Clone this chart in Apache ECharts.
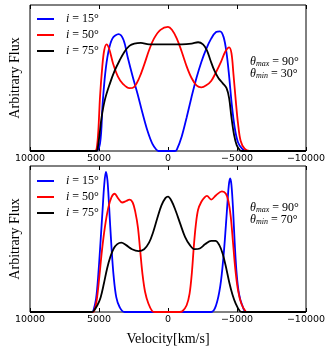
<!DOCTYPE html>
<html>
<head>
<meta charset="utf-8">
<script src="https://cdn.jsdelivr.net/npm/echarts@6/dist/echarts.min.js"></script>
<style>
  html, body { margin: 0; padding: 0; background: #fff; }
  #chart { width: 330px; height: 347px; }
</style>
</head>
<body>
<div id="chart"></div>
<script>
// velocity [km/s], flux pairs
// top panel: theta_min = 30
const top15 = [[10000,0],[5250,0],[4927,0.05],[4740,0.32],[4550,0.53],[4337,0.67],[4030,0.77],[3577,0.80],[3221,0.76],[2915,0.64],[2560,0.51],[2204,0.39],[1849,0.26],[1493,0.14],[1138,0.05],[853,0.01],[700,0],[-500,0],[-640,0.01],[-995,0.10],[-1351,0.23],[-1706,0.37],[-2062,0.50],[-2417,0.61],[-2773,0.70],[-3128,0.77],[-3484,0.815],[-3768,0.82],[-4030,0.78],[-4243,0.67],[-4432,0.51],[-4620,0.32],[-4835,0.16],[-5070,0.06],[-5380,0.015],[-5700,0],[-10000,0]];
const top50 = [[10000,0],[5300,0],[5170,0.016],[5048,0.14],[4927,0.37],[4764,0.575],[4622,0.69],[4455,0.73],[4266,0.70],[3982,0.60],[3626,0.51],[3271,0.46],[2797,0.43],[2441,0.44],[2086,0.50],[1730,0.59],[1374,0.69],[1019,0.77],[545,0.83],[0,0.85],[-284,0.83],[-640,0.77],[-995,0.68],[-1351,0.58],[-1706,0.50],[-2062,0.45],[-2417,0.436],[-2773,0.45],[-3128,0.48],[-3484,0.54],[-3839,0.61],[-4147,0.68],[-4432,0.71],[-4598,0.67],[-4740,0.53],[-4906,0.35],[-5072,0.19],[-5261,0.07],[-5546,0.016],[-5900,0],[-10000,0]];
const top75 = [[10000,0],[5200,0],[5120,0.005],[4977,0.10],[4813,0.23],[4575,0.35],[4219,0.46],[3863,0.55],[3508,0.62],[3152,0.68],[2797,0.72],[2441,0.735],[1967,0.74],[1374,0.73],[663,0.73],[0,0.73],[-995,0.73],[-1706,0.735],[-2180,0.745],[-2536,0.73],[-2820,0.69],[-3080,0.62],[-3365,0.55],[-3650,0.50],[-3958,0.465],[-4243,0.43],[-4432,0.36],[-4598,0.23],[-4787,0.11],[-4977,0.04],[-5214,0.005],[-5400,0],[-10000,0]];
// bottom panel: theta_min = 70
const bot15 = [[10000,0],[5500,0],[5404,0.01],[5214,0.09],[5048,0.26],[4883,0.49],[4740,0.70],[4622,0.87],[4500,0.96],[4385,0.90],[4266,0.72],[4100,0.45],[3934,0.24],[3745,0.10],[3508,0.034],[3152,0],[-3128,0],[-3484,0.046],[-3792,0.18],[-4030,0.39],[-4196,0.595],[-4314,0.755],[-4408,0.87],[-4503,0.915],[-4598,0.87],[-4716,0.70],[-4835,0.47],[-4977,0.26],[-5143,0.126],[-5380,0.046],[-5688,0],[-10000,0]];
const bot50 = [[10000,0],[5450,0],[5356,0.005],[5167,0.08],[4977,0.24],[4787,0.42],[4575,0.58],[4337,0.71],[4100,0.785],[3863,0.81],[3626,0.78],[3318,0.75],[3034,0.76],[2797,0.77],[2560,0.75],[2370,0.686],[2180,0.58],[2015,0.42],[1849,0.26],[1659,0.137],[1422,0.058],[1138,0.005],[950,0],[-850,0],[-1043,0.005],[-1351,0.046],[-1564,0.126],[-1730,0.27],[-1872,0.45],[-2014,0.595],[-2180,0.70],[-2417,0.755],[-2654,0.785],[-2820,0.795],[-3128,0.77],[-3484,0.80],[-3910,0.826],[-4196,0.81],[-4385,0.755],[-4550,0.65],[-4716,0.47],[-4882,0.29],[-5072,0.15],[-5310,0.058],[-5617,0.005],[-5800,0],[-10000,0]];
const bot75 = [[10000,0],[5500,0],[5404,0.005],[5120,0.046],[4883,0.10],[4645,0.195],[4408,0.30],[4171,0.38],[3934,0.435],[3674,0.465],[3389,0.475],[3034,0.458],[2607,0.43],[2133,0.417],[1730,0.43],[1374,0.475],[1067,0.55],[782,0.64],[474,0.73],[190,0.78],[0,0.79],[-284,0.755],[-569,0.69],[-877,0.607],[-1233,0.515],[-1588,0.458],[-1944,0.43],[-2300,0.435],[-2702,0.465],[-3128,0.487],[-3436,0.487],[-3720,0.458],[-3958,0.40],[-4196,0.31],[-4432,0.206],[-4669,0.12],[-4906,0.058],[-5214,0.005],[-5400,0],[-10000,0]];

const names = ['i = 15°', 'i = 50°', 'i = 75°'];
const colors = ['#0000ff', '#ff0000', '#000000'];
const thetaMax = ['90', '90'];
const thetaMin = ['30', '70'];

const serif = 'Liberation Serif';
const chart = echarts.init(document.getElementById('chart'));

function tickLabel(v){
    return v < 0 ? '\u2212' + (-v) : String(v);
}

function xAxes(idx){
    return [{
        gridIndex: idx, type: 'value', min: -10000, max: 10000, interval: 5000, inverse: true,
        axisLine: {show: false},
        axisTick: {inside: true, length: 4, lineStyle: {color: '#000'}},
        axisLabel: {color: '#000', fontFamily: 'DejaVu Sans', fontSize: 9.5, margin: 3,
            showMinLabel: true, showMaxLabel: true, formatter: tickLabel},
        splitLine: {show: false},
        name: idx == 1 ? 'Velocity[km/s]' : '',
        nameLocation: 'middle', nameGap: 20,
        nameTextStyle: {fontFamily: serif, fontSize: 14, color: '#000'}
    }, {
        gridIndex: idx, type: 'value', min: -10000, max: 10000, interval: 5000, inverse: true,
        position: 'top',
        axisLine: {show: false},
        axisTick: {inside: true, length: 4, lineStyle: {color: '#000'}},
        axisLabel: {show: false},
        splitLine: {show: false}
    }];
}

function yAxis(idx){
    return {
        gridIndex: idx, type: 'value', min: 0, max: 1,
        axisLine: {show: false}, axisTick: {show: false}, axisLabel: {show: false},
        splitLine: {show: false},
        name: 'Arbitrary Flux', nameLocation: 'middle', nameGap: 8,
        nameTextStyle: {fontFamily: serif, fontSize: 14, color: '#000'}
    };
}

function legend(top){
    return {
        left: 37, top: top, padding: 0, orient: 'vertical', icon: 'rect',
        itemWidth: 17, itemHeight: 2, itemGap: 2, selectedMode: false,
        data: names,
        formatter: n => '{it|i}{n|' + n.slice(1) + '}',
        textStyle: {
            lineHeight: 14, padding: [0, 0, 0, 7],
            rich: {
                it: {fontFamily: serif, fontStyle: 'italic', fontSize: 12, color: '#000'},
                n: {fontFamily: serif, fontSize: 12, color: '#000'}
            }
        }
    };
}

function thetaText(idx, top){
    return {
        type: 'text', left: 250, top: top,
        style: {
            text: '{th|θ}{sub|max}{n| = ' + thetaMax[idx] + '°}\n{th|θ}{sub|min}{n| = ' + thetaMin[idx] + '°}',
            rich: {
                th: {fontFamily: serif, fontStyle: 'italic', fontSize: 12, lineHeight: 12, fill: '#000'},
                sub: {fontFamily: serif, fontStyle: 'italic', fontSize: 8, lineHeight: 12, verticalAlign: 'bottom', fill: '#000'},
                n: {fontFamily: serif, fontSize: 12, lineHeight: 12, fill: '#000'}
            }
        }
    };
}

const panels = [[top15, top50, top75], [bot15, bot50, bot75]];
const series = [];
panels.forEach((curves, p) => {
    curves.forEach((d, k) => {
        series.push({
            name: names[k], type: 'line', data: d,
            xAxisIndex: p * 2, yAxisIndex: p,
            showSymbol: false, symbol: 'none',
            smooth: 0.35,
            lineStyle: {width: 1.8, color: colors[k]},
            itemStyle: {color: colors[k]},
            z: 2 + k
        });
    });
});

chart.setOption({
    animation: false,
    backgroundColor: '#fff',
    grid: [
        {left: 25, right: 24, top: 5, height: 146, show: true, borderColor: '#000', borderWidth: 1},
        {left: 25, right: 24, top: 166, height: 146, show: true, borderColor: '#000', borderWidth: 1}
    ],
    xAxis: xAxes(0).concat(xAxes(1)),
    yAxis: [yAxis(0), yAxis(1)],
    legend: [legend(12), legend(174)],
    graphic: [thetaText(0, 56), thetaText(1, 202)],
    series: series
});
</script>
</body>
</html>
